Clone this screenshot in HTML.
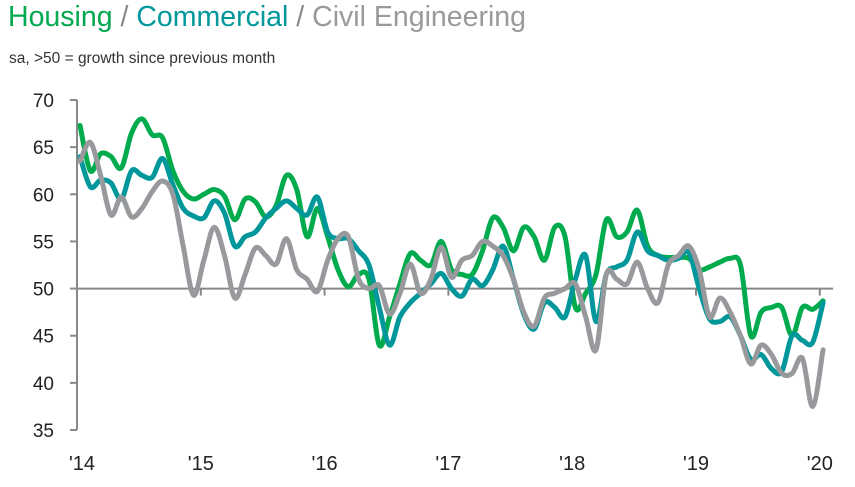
<!DOCTYPE html>
<html><head><meta charset="utf-8"><style>
body{margin:0;background:#fff;width:855px;height:487px;overflow:hidden;font-family:"Liberation Sans",sans-serif}
.t{position:absolute;left:8px;top:1px;font-size:28.5px;white-space:nowrap}
.s{position:absolute;left:9px;top:50px;font-size:15.5px;color:#333;white-space:nowrap}
</style></head><body>
<div class="t"><span style="color:#00a84f">Housing</span><span style="color:#888"> / </span><span style="color:#00989a">Commercial</span><span style="color:#888"> / </span><span style="color:#9a9a9d">Civil Engineering</span></div>
<div class="s">sa, &gt;50 = growth since previous month</div>
<svg id="c" width="855" height="487" style="position:absolute;left:0;top:0"></svg>
<script>
const yTicks=[35,40,45,50,55,60,65,70];
const xLabels=["'14","'15","'16","'17","'18","'19","'20"];
const housing=[67.3,62.5,64.3,64.0,62.8,66.5,68.0,66.3,66.0,62.5,60.3,59.5,60.0,60.5,59.8,57.3,59.5,59.2,57.6,58.8,62.0,60.5,55.5,58.5,55.5,52.0,50.2,51.5,51.0,44.0,47.0,50.5,53.7,53.0,52.5,55.0,52.0,51.5,51.5,54.0,57.5,56.5,54.0,56.5,55.5,53.0,56.5,55.5,48.0,49.5,51.5,57.3,55.5,56.0,58.3,54.5,53.5,53.3,53.3,53.2,52.0,52.3,52.8,53.2,52.5,45.0,47.5,48.0,48.0,45.0,48.0,47.8,48.7];
const commercial=[64.0,60.8,61.5,61.2,59.5,62.5,62.0,61.8,63.8,61.0,58.5,57.7,57.5,59.3,58.0,54.5,55.5,56.0,57.5,58.5,59.3,58.5,57.8,59.7,56.0,55.3,55.3,54.0,52.5,48.0,44.0,47.0,48.5,49.5,50.5,51.6,50.0,49.2,51.0,50.3,52.0,54.5,51.0,47.3,45.7,48.5,48.0,47.0,51.0,53.5,46.5,51.5,52.3,53.0,56.0,54.0,53.5,53.0,53.2,53.8,50.0,46.8,46.5,47.0,45.0,42.5,43.0,41.5,41.2,45.0,44.5,44.3,48.5];
const civil=[63.5,65.5,62.0,57.8,59.7,57.6,58.5,60.3,61.4,60.0,54.5,49.3,53.0,56.5,53.5,49.0,51.5,54.3,53.5,52.6,55.3,52.0,51.0,49.7,53.0,55.3,55.5,51.0,50.0,50.3,47.3,49.5,52.6,49.5,51.0,54.4,51.2,53.0,53.5,55.0,54.5,53.5,51.0,47.5,46.0,49.0,49.5,50.0,50.5,47.0,43.5,51.5,51.0,50.5,52.8,50.0,48.5,52.5,53.5,54.5,52.0,47.0,49.0,47.5,45.0,42.0,44.0,43.0,41.0,41.0,42.6,37.5,43.5];
const NS="http://www.w3.org/2000/svg",svg=document.getElementById('c');
const y=v=>100+(70-v)*330/35;
const x=i=>80+i*10.32;
const yr=k=>77+k*123.8;
function mk(t,a){const e=document.createElementNS(NS,t);for(const k in a)e.setAttribute(k,a[k]);svg.appendChild(e);return e;}
const ax=mk('line',{x1:77,y1:100,x2:77,y2:430,stroke:'#888','stroke-width':2});


yTicks.forEach(v=>{
 const tk=mk('line',{x1:70,x2:77,y1:y(v),y2:y(v),stroke:'#888','stroke-width':2});
 
 
 const t=mk('text',{x:54,y:y(v)+7,'text-anchor':'end','font-size':19,fill:'#222','font-family':'Liberation Sans, sans-serif'});
 t.textContent=v;
 
 
});
const base=mk('line',{x1:77,x2:833,y1:y(50),y2:y(50),stroke:'#888','stroke-width':2});


xLabels.forEach((l,k)=>{
 const tk=mk('line',{x1:yr(k),x2:yr(k),y1:y(50),y2:y(50)+7,stroke:'#888','stroke-width':2});
 
 
 const t=mk('text',{x:yr(k)+(k==0?5:0),y:470,'text-anchor':'middle','font-size':20,fill:'#222','font-family':'Liberation Sans, sans-serif'});
 t.textContent=l;
 
 
});
function path(d){const p=d.map((v,i)=>[x(i),y(v)]);let s='M'+p[0][0]+' '+p[0][1];
 for(let i=0;i<p.length-1;i++){const p0=p[i-1]||p[i],p1=p[i],p2=p[i+1],p3=p[i+2]||p2;
 s+=` C${p1[0]+(p2[0]-p0[0])/6} ${p1[1]+(p2[1]-p0[1])/6} ${p2[0]-(p3[0]-p1[0])/6} ${p2[1]-(p3[1]-p1[1])/6} ${p2[0]} ${p2[1]}`;}return s;}
[[housing,'#00ab4e','housing-line'],[commercial,'#00979b','commercial-line'],[civil,'#98999c','civil-engineering-line']].forEach(([d,c,n])=>{
 const e=mk('path',{d:path(d),fill:'none',stroke:c,'stroke-width':5,'stroke-linejoin':'round','stroke-linecap':'round'});
 
 
});
</script>
</body></html>
